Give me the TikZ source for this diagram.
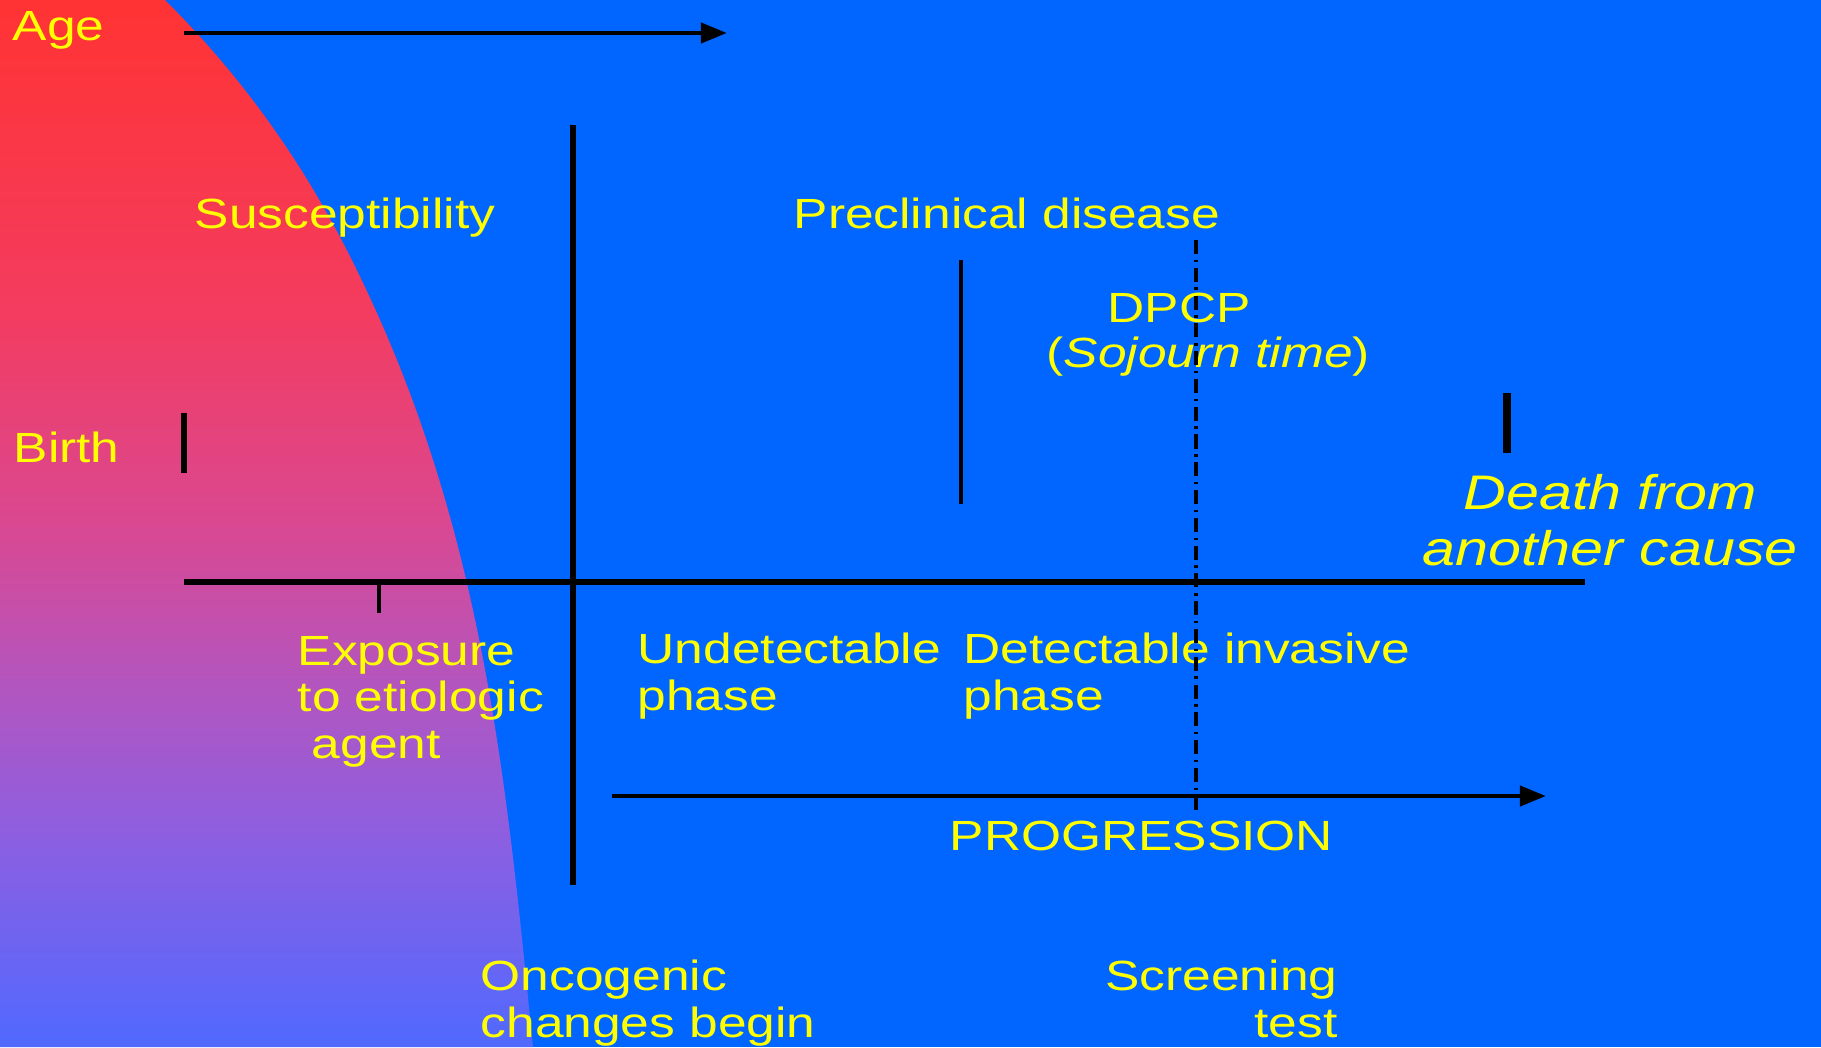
\documentclass[tikz,border=0pt]{standalone}
\usepackage{fontspec}
\setmainfont{Liberation Sans}[FakeStretch=1.22]
\usetikzlibrary{arrows.meta}
\definecolor{slideblue}{RGB}{0,102,255}
\definecolor{labelyellow}{RGB}{255,255,0}
\definecolor{fadeA}{RGB}{255,51,51}
\definecolor{fadeB}{RGB}{243,60,96}
\definecolor{fadeC}{RGB}{218,72,145}
\definecolor{fadeD}{RGB}{180,85,190}
\definecolor{fadeE}{RGB}{140,95,225}
\definecolor{fadeF}{RGB}{80,105,255}
\pgfdeclareverticalshading{agefade}{100bp}{color(0bp)=(fadeF); color(25bp)=(fadeF); color(35bp)=(fadeE); color(42.5bp)=(fadeD); color(50bp)=(fadeC); color(60bp)=(fadeB); color(75bp)=(fadeA); color(100bp)=(fadeA)}

\begin{document}
\begin{tikzpicture}[x=0.01cm,y=-0.01cm,
	label text/.style={text=labelyellow,inner sep=0pt,anchor=base west,align=left,font=\fontsize{12}{13.1}\selectfont},
	death text/.style={text=labelyellow,inner sep=0pt,anchor=base,align=center,font=\fontsize{13.8}{15.9}\selectfont\itshape},
	main line/.style={line width=1.5pt},
	thin mark/.style={line width=0.95pt},
	thick mark/.style={line width=1.9pt},
	time arrow/.style={line width=1.4pt,-{Triangle[length=7.4pt,width=5.6pt]}}]
	\fill[slideblue] (0,0) rectangle (1821,1047);
	\shade[shading=agefade] (0,0) -- (165,0) .. controls (265,100) and (325,200) .. (371,300) .. controls (486,549) and (508,798) .. (533,1047) -- (0,1047) -- cycle;
	\node[label text] (age) at (12,40) {Age};
	\node[label text] (susc) at (194,228) {Susceptibility};
	\node[label text] (precl) at (793,228) {Preclinical disease};
	\node[label text] (dpcp) at (1107,322) {DPCP};
	\node[label text] (sojourn) at (1046,367) {(\textit{Sojourn time})};
	\node[label text] (birth) at (13,462) {Birth};
	\node[death text] (death) at (1610,565) {Death from\\another cause};
	\node[label text] (exposure) at (297,758) {Exposure\\to etiologic\\\hspace*{4pt}agent};
	\node[label text] (undet) at (637,710) {Undetectable\\phase};
	\node[label text] (detect) at (963,710) {Detectable invasive\\phase};
	\node[label text] (progr) at (949,850) {PROGRESSION};
	\node[label text] (onco) at (480,1037) {Oncogenic\\changes begin};
	\node[label text,anchor=base east,align=right] (screen) at (1338,1037) {Screening\\test};
	\coordinate (age tail) at (184,33);
	\coordinate (age head) at (727,33);
	\coordinate (line start) at (184,582);
	\coordinate (line end) at (1585,582);
	\coordinate (onset top) at (573,125);
	\coordinate (onset bottom) at (573,885);
	\coordinate (progr tail) at (612,796);
	\coordinate (progr head) at (1546,796);
	\draw[time arrow] (age tail) -- (age head);
	\draw[main line] (line start) -- (line end);
	\draw[main line] (onset top) -- (onset bottom);
	\draw[time arrow] (progr tail) -- (progr head);
	\draw[thick mark] (184,413) -- (184,473);
	\draw[thick mark,line width=2.1pt] (1507,393) -- (1507,453);
	\draw[thin mark] (379,582) -- (379,613);
	\draw[thin mark] (961,260) -- (961,504);
	\draw[thin mark,dash pattern=on 4pt off 1.6pt on 0.7pt off 1.6pt] (1196,240) -- (1196,815);
\end{tikzpicture}
\end{document}
